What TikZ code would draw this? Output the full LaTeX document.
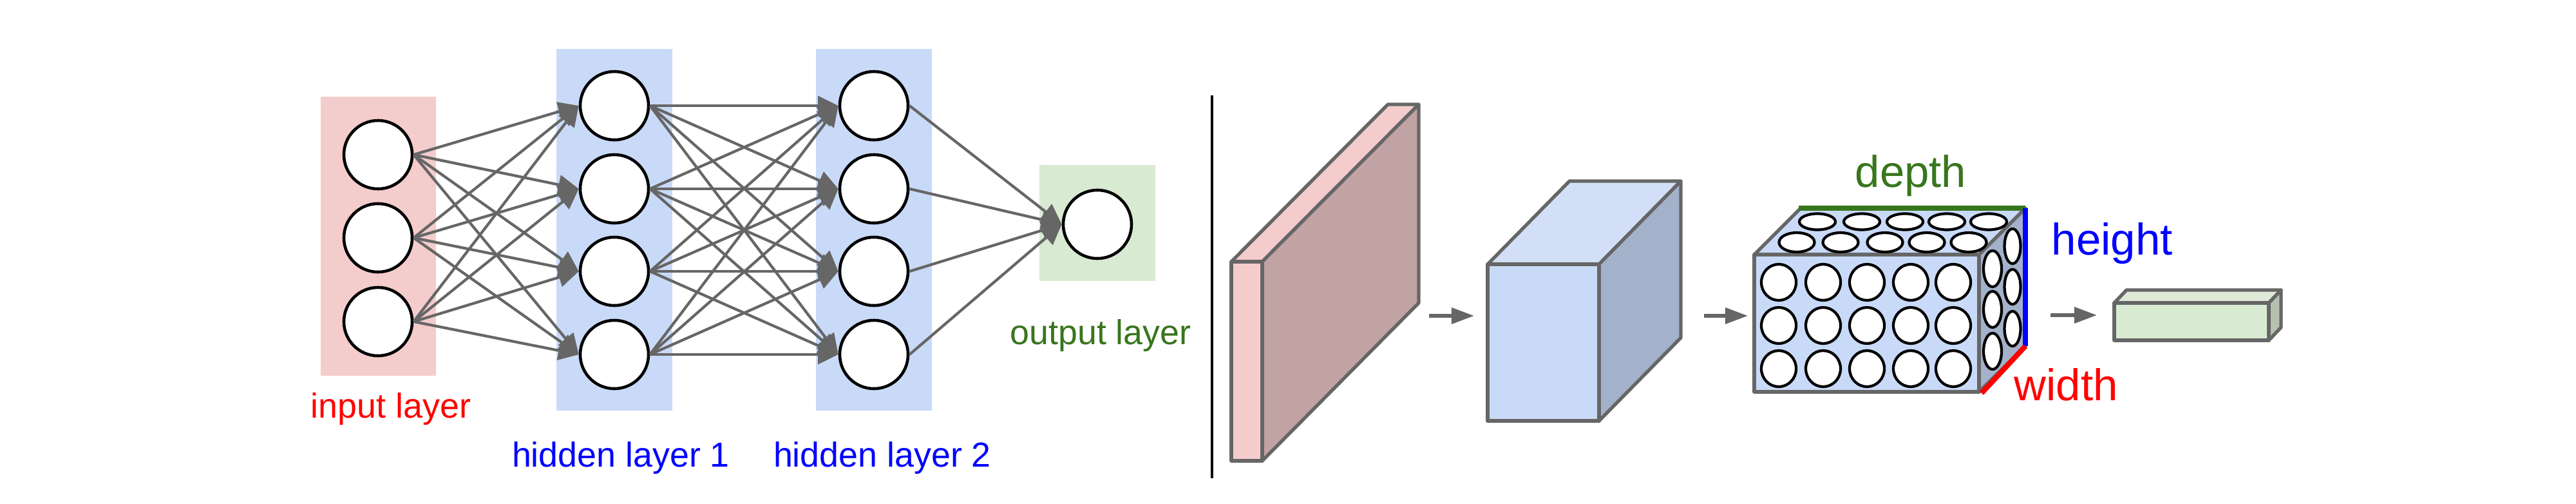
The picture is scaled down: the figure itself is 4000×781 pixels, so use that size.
\documentclass[tikz,border=0pt]{standalone}
\usepackage{fontspec}
\setmainfont{Liberation Sans}
\usetikzlibrary{arrows.meta}
\definecolor{inback}{HTML}{F4CCCC}
\definecolor{hidback}{HTML}{C9DAF8}
\definecolor{outback}{HTML}{D9EAD3}
\definecolor{edgegray}{HTML}{666666}
\definecolor{labgreen}{HTML}{38761D}
\definecolor{slabside}{HTML}{C2A3A3}
\definecolor{cubetop}{HTML}{D3DFF6}
\definecolor{cubeside}{HTML}{A3B1CA}
\definecolor{boxtop}{HTML}{DEEAD7}
\definecolor{boxside}{HTML}{B5C1AF}

\begin{document}
\begin{tikzpicture}[x=0.01cm,y=-0.01cm,
 neuron/.style ={circle,draw=black,line width=1.3pt,fill=white,minimum size=1.06cm,inner sep=0pt},
 synapse/.style ={draw=edgegray,line width=1.2pt,-{Triangle[length=9pt,width=8.5pt]}},
 nnlabel/.style ={anchor=base,inner sep=0pt,font=\fontsize{15.3}{18}\selectfont},
 dimlabel/.style ={inner sep=0pt,font=\fontsize{19.6}{23}\selectfont},
 face/.style ={draw=edgegray,line width=1.5pt,line join=round},
 cell/.style ={draw=black,line width=1.2pt,fill=white},
 flow/.style ={draw=edgegray,line width=1.5pt,-{Triangle[length=10pt,width=7pt]}}
 ]
\useasboundingbox (0,0) rectangle (4000,781);
%layer backgrounds
\fill[inback] (498,150) rectangle (677,583);
\fill[hidback] (864,76) rectangle (1044,637);
\fill[hidback] (1267,76) rectangle (1447,637);
\fill[outback] (1614,256) rectangle (1794,436);
%input layer
\node[neuron] (i1) at (587,240) {};
\node[neuron] (i2) at (587,369) {};
\node[neuron] (i3) at (587,499) {};
%hidden layer 1
\node[neuron] (h1) at (954,164) {};
\node[neuron] (h2) at (954,293) {};
\node[neuron] (h3) at (954,421) {};
\node[neuron] (h4) at (954,550) {};
%hidden layer 2
\node[neuron] (g1) at (1357,164) {};
\node[neuron] (g2) at (1357,293) {};
\node[neuron] (g3) at (1357,421) {};
\node[neuron] (g4) at (1357,550) {};
%output layer
\node[neuron] (o1) at (1704,348) {};
%connections
\foreach \a in {1,2,3}
  \foreach \b in {1,...,4}
    \draw[synapse] (i\a.east) -- (h\b.west);
\foreach \a in {1,...,4}
  \foreach \b in {1,...,4}
    \draw[synapse] (h\a.east) -- (g\b.west);
\foreach \a in {1,...,4}
  \draw[synapse] (g\a.east) -- (o1.west);
%layer labels
\node[nnlabel,text=red] (inlab) at (607,648) {input layer};
\node[nnlabel,text=blue] (h1lab) at (964,724) {hidden layer 1};
\node[nnlabel,text=blue] (h2lab) at (1370,724) {hidden layer 2};
\node[nnlabel,text=labgreen] (outlab) at (1709,534) {output layer};
%divider
\draw[black,line width=1.2pt] (1882,148) -- (1882,742);
%input volume
\filldraw[face,fill=inback] (1912,406) -- (2155,162) -- (2203,162) -- (1960,406) -- cycle;
\filldraw[face,fill=slabside] (1960,406) -- (2203,162) -- (2203,470) -- (1960,715) -- cycle;
\filldraw[face,fill=inback] (1912,406) rectangle (1960,715);
%hidden volume
\filldraw[face,fill=cubetop] (2310,410) -- (2437,281) -- (2610,281) -- (2483,410) -- cycle;
\filldraw[face,fill=cubeside] (2483,410) -- (2610,281) -- (2610,524) -- (2483,653) -- cycle;
\filldraw[face,fill=hidback] (2310,410) rectangle (2483,653);
%volume of neurons
\filldraw[face,fill=hidback] (2724,395) -- (2796,323) -- (3145,323) -- (3073,395) -- cycle;
\filldraw[face,fill=cubeside] (3073,395) -- (3145,323) -- (3145,537) -- (3073,608) -- cycle;
\filldraw[face,fill=hidback] (2724,395) rectangle (3073,608);
\foreach \x in {2762,2831,2899,2967,3033}
  \foreach \y in {438,505,572}
    \draw[cell] (\x,\y) ellipse [x radius=0.27cm,y radius=0.28cm];
\foreach \x in {2822,2891,2958,3023,3088}
  \draw[cell] (\x,344) ellipse [x radius=0.28cm,y radius=0.125cm];
\foreach \x in {2790,2858,2927,2992,3057}
  \draw[cell] (\x,376) ellipse [x radius=0.275cm,y radius=0.15cm];
\foreach \y in {382,445,510}
  \draw[cell] (3125,\y) ellipse [x radius=0.125cm,y radius=0.27cm];
\foreach \y in {417,480,545}
  \draw[cell] (3094,\y) ellipse [x radius=0.14cm,y radius=0.28cm];
%dimensions
\draw[labgreen,line width=2.3pt] (2793,323) -- (3145,323);
\draw[blue,line width=2.3pt] (3145,323) -- (3145,537);
\draw[red,line width=2.3pt] (3145,537) -- (3077,610);
\node[dimlabel,anchor=base,text=labgreen] (deplab) at (2967,290) {depth};
\node[dimlabel,anchor=base west,text=blue] (heilab) at (3185,395) {height};
\node[dimlabel,anchor=base west,text=red] (widlab) at (3127,621) {width};
%output volume
\filldraw[face,fill=boxtop] (3283,470) -- (3302,450) -- (3542,450) -- (3523,470) -- cycle;
\filldraw[face,fill=boxside] (3523,470) -- (3542,450) -- (3542,508) -- (3523,528) -- cycle;
\filldraw[face,fill=outback] (3283,470) rectangle (3523,528);
%arrows between volumes
\coordinate (f1s) at (2219,490);
\coordinate (f1e) at (2289,490);
\coordinate (f2s) at (2646,490);
\coordinate (f2e) at (2714,490);
\coordinate (f3s) at (3184,489);
\coordinate (f3e) at (3256,489);
\draw[flow] (f1s) -- (f1e);
\draw[flow] (f2s) -- (f2e);
\draw[flow] (f3s) -- (f3e);
\end{tikzpicture}
\end{document}
